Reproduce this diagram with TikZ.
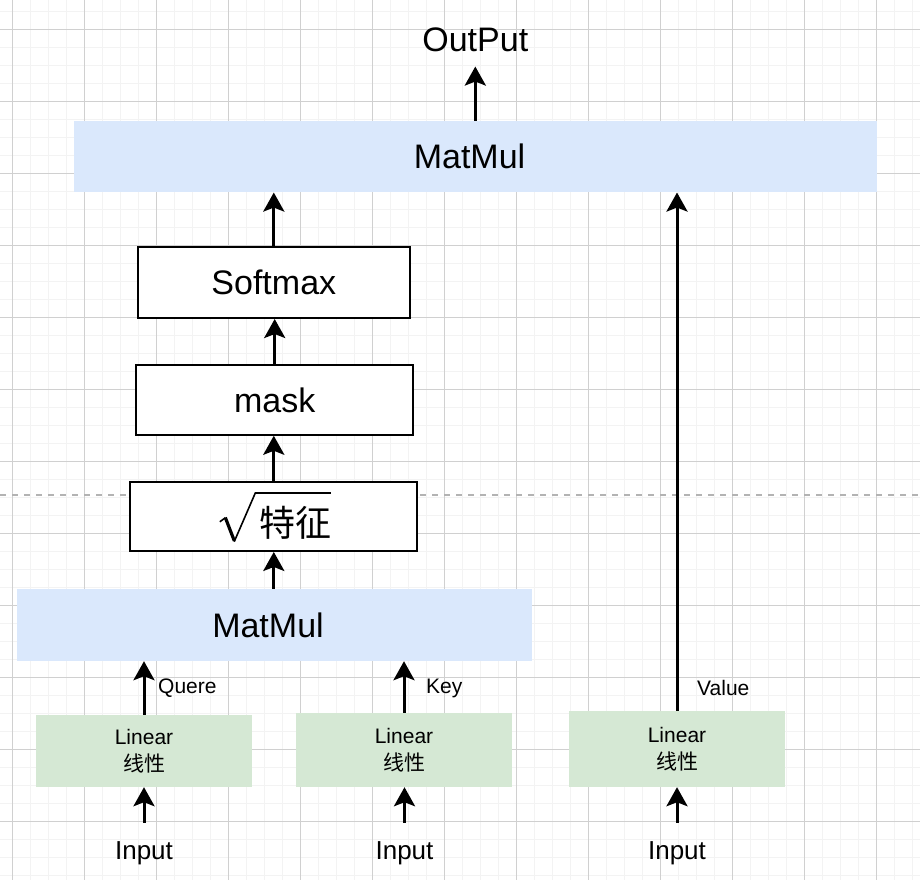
\documentclass[tikz,border=0pt]{standalone}
\usepackage{fontspec}
\setmainfont{Liberation Sans}
\newfontfamily\cjk{Noto Sans CJK SC}
\usetikzlibrary{arrows.meta}
\definecolor{bluefill}{HTML}{DAE8FC}
\definecolor{greenfill}{HTML}{D5E8D4}
\definecolor{minorgrid}{HTML}{F3F3F3}
\definecolor{majorgrid}{HTML}{D0D0D0}
\definecolor{dashgray}{HTML}{B3B3B3}
\begin{document}
\begin{tikzpicture}[x=1pt,y=-1pt,
  bluebox/.style={fill=bluefill, draw=none, inner sep=0pt},
  greenbox/.style={fill=greenfill, draw=none, inner sep=0pt, align=center, font=\fontsize{21}{27}\selectfont},
  whitebox/.style={fill=white, draw=black, line width=2pt, inner sep=0pt, font=\fontsize{34}{40}\selectfont},
  bigtext/.style={font=\fontsize{34}{40}\selectfont, inner sep=0pt},
  intext/.style={font=\fontsize{26}{30}\selectfont, inner sep=0pt, anchor=base},
  smalltext/.style={font=\fontsize{21}{25}\selectfont, inner sep=0pt, anchor=west},
  arr/.style={line width=3pt, -{Stealth[length=19pt,width=21pt,inset=4pt]}},
  minorline/.style={draw=minorgrid, line width=1.2pt},
  majorline/.style={draw=majorgrid, line width=1pt},
  radical/.style={line width=1.6pt, line join=miter},
]
\useasboundingbox (0,0) rectangle (920,880);
\fill[white] (0,0) rectangle (920,880);
% grid
\foreach \i in {0,...,51} \draw[minorline] ({-5.7+18*\i},0) -- ({-5.7+18*\i},880);
\foreach \i in {0,...,48} \draw[minorline] (0,{11.3+18*\i}) -- (920,{11.3+18*\i});
\foreach \i in {0,...,12} \draw[majorline] ({12.3+72*\i},0) -- ({12.3+72*\i},880);
\foreach \i in {0,...,11} \draw[majorline] (0,{29.3+72*\i}) -- (920,{29.3+72*\i});
% dashed separator
\draw[dashgray, line width=1.5pt, dash pattern=on 6pt off 6pt] (0,495) -- (920,495);

% boxes
\node[bluebox, minimum width=802.5pt, minimum height=71.5pt] (mm1) at (475.3,156.6) {};
\node[bigtext] (mm1t) at (469.5,156.7) {MatMul};
\node[whitebox, minimum width=272.3pt, minimum height=71pt] (soft) at (273.8,282.5) {Softmax};
\node[whitebox, minimum width=277.3pt, minimum height=69.7pt] (mask) at (274.7,399.9) {mask};
\node[whitebox, minimum width=287pt, minimum height=69.3pt] (sq) at (273.8,516.3) {};
\node[inner sep=0pt, font=\fontsize{36}{40}\cjk] (sqt) at (295,523) {特征};
% radical sign
\begin{scope}[shift={(sq.center)}]
  \draw[radical] (-54,5.5) -- (-48.5,1.5);
  \draw[line width=3.2pt, line cap=butt] (-48.5,1.2) -- (-39.5,24.5);
  \draw[radical] (-39.6,25.4) -- (-18.5,-23.3) -- (57,-23.3);
\end{scope}
\node[bluebox, minimum width=515.5pt, minimum height=72pt] (mm2) at (274.3,625) {};
\node[bigtext] (mm2t) at (268,625) {MatMul};

\node[greenbox, minimum width=216pt, minimum height=72pt] (L1) at (144,751) {Linear\\{\cjk 线性}};
\node[greenbox, minimum width=216pt, minimum height=74pt] (L2) at (404,750) {Linear\\{\cjk 线性}};
\node[greenbox, minimum width=216pt, minimum height=76pt] (L3) at (677,749) {Linear\\{\cjk 线性}};

\node[intext] (in1) at (144,859.3) {Input};
\node[intext] (in2) at (404.5,859.3) {Input};
\node[intext] (in3) at (677,859.3) {Input};

\node[bigtext, anchor=base] (out) at (475.3,52) {OutPut};

\node[smalltext] (lq) at (158,688) {Quere};
\node[smalltext] (lk) at (426,688) {Key};
\node[smalltext] (lv) at (697,688) {Value};

% connectors
\draw[arr, shorten <=18.7pt] (in1.north) -- (in1.north |- L1.south);
\draw[arr, shorten <=18.7pt] (in2.north) -- (in2.north |- L2.south);
\draw[arr, shorten <=18.7pt] (in3.north) -- (in3.north |- L3.south);
\draw[arr] (L1.north) -- (L1.north |- mm2.south);
\draw[arr] (L2.north) -- (L2.north |- mm2.south);
\draw[arr] (L3.north) -- (L3.north |- mm1.south);
\draw[arr] (sq.south |- mm2.north) -- (sq.south);
\draw[arr] (sq.north) -- (sq.north |- mask.south);
\draw[arr] (mask.north) -- (mask.north |- soft.south);
\draw[arr] (soft.north) -- (soft.north |- mm1.south);
\draw[arr, shorten >=14pt] (mm1.north -| out.south) -- (out.south);
\end{tikzpicture}
\end{document}
